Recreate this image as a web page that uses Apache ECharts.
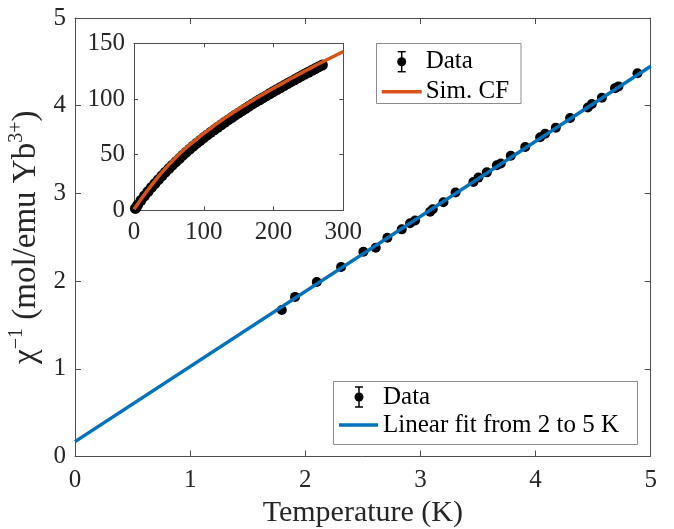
<!DOCTYPE html>
<html>
<head>
<meta charset="utf-8">
<script src="https://cdn.jsdelivr.net/npm/echarts@6/dist/echarts.min.js"></script>
<style>html,body{margin:0;padding:0;background:#fff}#c{width:674px;height:529px}</style>
</head>
<body>
<div id="c"></div>
<script>
// Main panel: low-temperature inverse susceptibility
var mainT   = [1.796,1.911,2.10,2.311,2.505,2.612,2.713,2.838,2.91,2.954,3.084,3.107,3.20,3.305,3.46,3.504,3.577,3.664,3.698,3.785,3.91,4.04,4.083,4.176,4.30,4.454,4.489,4.576,4.69,4.72,4.885];
var mainChi = [1.67,1.82,1.99,2.16,2.335,2.38,2.495,2.59,2.66,2.69,2.79,2.82,2.90,3.01,3.13,3.18,3.24,3.32,3.34,3.43,3.53,3.64,3.68,3.75,3.86,3.98,4.02,4.09,4.20,4.22,4.37];
// Linear fit from 2 to 5 K (end points)
var fitT   = [0, 5];
var fitChi = [0.17, 4.45];
// Inset: full temperature range data
var insetT   = [2,5,10,15,20,25,30,35,40,45,50,55,60,65,70,75,80,85,90,95,100,105,110,115,120,125,130,135,140,145,150,155,160,165,170,175,180,185,190,195,200,205,210,215,220,225,230,235,240,245,250,255,260,265,270];
var insetChi = [1.7,4.5,9,13,16.8,20.5,24,27.5,31,34.2,37.5,40.5,43.5,46.5,49.5,52.3,55,57.7,60.3,62.8,65.3,67.7,70,72.3,74.5,76.8,79,81.2,83.3,85.4,87.5,89.5,91.5,93.5,95.5,97.4,99.3,101.2,103,104.9,106.7,108.5,110.3,112,113.8,115.5,117.2,119,120.7,122.4,124,125.7,127.3,129,130.5];
// Inset: simulated crystal-field curve
var simT   = [0,10,20,30,40,50,60,70,80,90,100,110,120,130,140,150,160,170,180,190,200,210,220,230,240,250,260,270,280,290,300];
var simChi = [1,10,18.5,26.5,34,41,47.5,53.5,59,64,69,73.7,78.3,82.8,87,91,94.9,98.7,102.4,106,109.6,113.1,116.6,120,123.4,126.7,130,133.2,136.4,139.5,142.5];
// Tick settings
var mainXTicks = [0,1,2,3,4,5];
var mainYTicks = [0,1,2,3,4,5];
var insetXTicks = [0,100,200,300];
var insetYTicks = [0,50,100,150];

function zip(a,b){var r=[];for(var i=0;i<a.length;i++)r.push([a[i],b[i]]);return r;}

var FONT = 'Liberation Serif';
var AX = '#4d4d4d';
function axisCommon(min,max,interval,showLabel,tickLen,labelMargin){
  return {
    type:'value', min:min, max:max, interval:interval,
    axisLine:{show:true, onZero:false, lineStyle:{color:AX,width:1}},
    axisTick:{show:true, inside:true, length:tickLen, lineStyle:{color:AX,width:1}},
    axisLabel:{show:showLabel, color:'#262626', fontFamily:FONT, fontSize:25, margin:labelMargin},
    splitLine:{show:false}
  };
}

var chart = echarts.init(document.getElementById('c'), null, {renderer:'canvas'});

var xMain = axisCommon(mainXTicks[0], mainXTicks[mainXTicks.length-1], 1, true, 6, 11);
xMain.gridIndex = 0; xMain.position='bottom';
xMain.name = 'Temperature (K)'; xMain.nameLocation='middle'; xMain.nameGap=42;
xMain.nameTextStyle = {fontFamily:FONT, fontSize:30, color:'#262626'};
var xMainTop = axisCommon(0,5,1,false,6,8); xMainTop.gridIndex=0; xMainTop.position='top';

var yMain = axisCommon(mainYTicks[0], mainYTicks[mainYTicks.length-1], 1, true, 6, 9);
yMain.gridIndex=0; yMain.position='left';
yMain.name = '{a|χ}{s|−1}{a| (mol/emu Yb}{s|3+}{a|)}';
yMain.nameLocation='middle'; yMain.nameGap=22; yMain.nameRotate=90;
yMain.nameTextStyle = {fontFamily:FONT, fontSize:33, color:'#262626',
  rich:{a:{fontFamily:FONT,fontSize:33,color:'#262626',lineHeight:38},
        s:{fontFamily:FONT,fontSize:20,color:'#262626',verticalAlign:'top',lineHeight:19}}};
var yMainRight = axisCommon(0,5,1,false,6,8); yMainRight.gridIndex=0; yMainRight.position='right';

var xIn = axisCommon(insetXTicks[0], insetXTicks[insetXTicks.length-1], 100, true, 4, 10);
xIn.gridIndex=1; xIn.position='bottom';
var xInTop = axisCommon(0,300,100,false,4,8); xInTop.gridIndex=1; xInTop.position='top';
var yIn = axisCommon(insetYTicks[0], insetYTicks[insetYTicks.length-1], 50, true, 4, 9);
yIn.gridIndex=1; yIn.position='left';
var yInRight = axisCommon(0,150,50,false,4,8); yInRight.gridIndex=1; yInRight.position='right';

// legend graphics
function legendData(cx, cy){
  return [
    {type:'line', shape:{x1:cx,y1:cy-10,x2:cx,y2:cy+10}, style:{stroke:'#000',lineWidth:1.5}, z:100},
    {type:'line', shape:{x1:cx-4,y1:cy-10,x2:cx+4,y2:cy-10}, style:{stroke:'#000',lineWidth:1.5}, z:100},
    {type:'line', shape:{x1:cx-4,y1:cy+10,x2:cx+4,y2:cy+10}, style:{stroke:'#000',lineWidth:1.5}, z:100},
    {type:'circle', shape:{cx:cx,cy:cy,r:4.5}, style:{fill:'#000'}, z:100}
  ];
}
function legendText(x, y, t){
  return {type:'text', x:x, y:y, style:{text:t, fill:'#000', font:'25px "Liberation Serif"', textVerticalAlign:'middle', verticalAlign:'middle'}, z:100};
}
var graphics = [];
// lower legend
graphics.push({type:'rect', shape:{x:333.5,y:381.5,width:304,height:63}, style:{fill:'#fff',stroke:'#8c8c8c',lineWidth:1}, z:99});
graphics = graphics.concat(legendData(359, 397));
graphics.push(legendText(383, 397, 'Data'));
graphics.push({type:'line', shape:{x1:339,y1:425,x2:378,y2:425}, style:{stroke:'#0072BD',lineWidth:3.5}, z:100});
graphics.push(legendText(383, 425, 'Linear fit from 2 to 5 K'));
// upper legend
graphics.push({type:'rect', shape:{x:376.5,y:43.5,width:144.5,height:60}, style:{fill:'#fff',stroke:'#8c8c8c',lineWidth:1}, z:99});
graphics = graphics.concat(legendData(401.7, 61.7));
graphics.push(legendText(425.7, 61.7, 'Data'));
graphics.push({type:'line', shape:{x1:381.7,y1:91.7,x2:421.7,y2:91.7}, style:{stroke:'#D95319',lineWidth:3.5}, z:100});
graphics.push(legendText(425.7, 91.7, 'Sim. CF'));

chart.setOption({
  animation:false,
  backgroundColor:'#fff',
  grid:[
    {left:75, top:18, width:575.7, height:438.5, containLabel:false, outerBoundsMode:'none'},
    {left:134, top:43.3, width:209.3, height:167, containLabel:false, outerBoundsMode:'none'}
  ],
  xAxis:[xMain, xMainTop, xIn, xInTop],
  yAxis:[yMain, yMainRight, yIn, yInRight],
  series:[
    {type:'scatter', xAxisIndex:0, yAxisIndex:0, data:zip(mainT,mainChi), symbol:'circle', symbolSize:10,
     itemStyle:{color:'#000', opacity:1}, z:2},
    {type:'line', xAxisIndex:0, yAxisIndex:0, data:zip(fitT,fitChi), symbol:'none',
     lineStyle:{color:'#0072BD', width:3.5}, z:3},
    {type:'scatter', xAxisIndex:2, yAxisIndex:2, data:zip(insetT,insetChi), symbol:'circle', symbolSize:11,
     itemStyle:{color:'#000', opacity:1}, z:6},
    {type:'line', xAxisIndex:2, yAxisIndex:2, data:zip(simT,simChi), symbol:'none', smooth:0.3,
     lineStyle:{color:'#D95319', width:3.5}, z:7}
  ],
  graphic:graphics
});
</script>
</body>
</html>
